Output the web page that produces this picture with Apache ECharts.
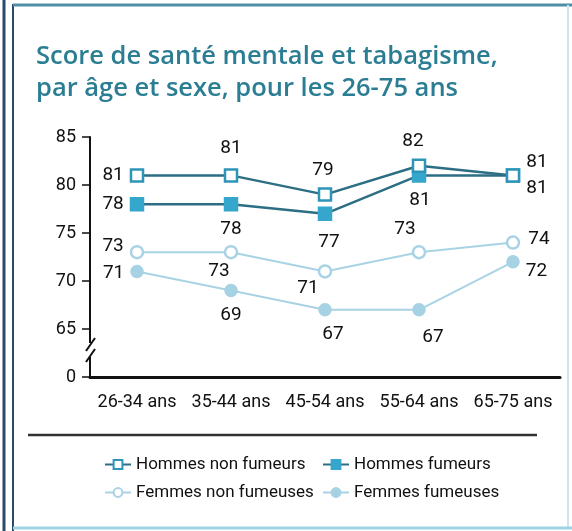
<!DOCTYPE html>
<html>
<head>
<meta charset="utf-8">
<script src="https://cdn.jsdelivr.net/npm/echarts@6/dist/echarts.min.js"></script>
<style>
  html, body { margin: 0; padding: 0; background: #fff; }
  #main { width: 572px; height: 531px; }
</style>
</head>
<body>
<div id="main"></div>
<script>
// categories and values
const ageGroups = ['26-34 ans', '35-44 ans', '45-54 ans', '55-64 ans', '65-75 ans'];
const hommesNonFumeurs = [81, 81, 79, 82, 81];
const hommesFumeurs = [78, 78, 77, 81, 81];
const femmesNonFumeuses = [73, 73, 71, 73, 74];
const femmesFumeuses = [71, 69, 67, 67, 72];
const yTicks = [60, 65, 70, 75, 80, 85]; // 60 stands in for the broken "0"

const narrow = 'Roboto, "Liberation Sans Narrow", sans-serif';
const darkLine = '#2c6e84';

// label placement per point (style only)
function withLabels(values, places) {
    return values.map((v, i) => ({
        value: v,
        label: { position: places[i][0], offset: places[i][1] || [0, 0] }
    }));
}

function makeSeries(name, values, places, opts) {
    return {
        name,
        type: 'line',
        data: withLabels(values, places),
        symbol: opts.symbol,
        symbolSize: opts.size,
        showAllSymbol: true,
        lineStyle: { color: opts.line, width: opts.width },
        itemStyle: { color: opts.fill, borderColor: opts.border, borderWidth: 2.5 },
        label: {
            show: true,
            color: '#111',
            fontFamily: narrow,
            fontSize: 19,
            distance: 6
        },
        z: opts.z
    };
}

const chart = echarts.init(document.getElementById('main'));

const option = {
    backgroundColor: '#fff',
    animation: false,
    title: {
        text: 'Score de santé mentale et tabagisme,\npar âge et sexe, pour les 26-75 ans',
        left: 31,
        top: 36,
        textStyle: {
            color: '#2a7d92',
            fontFamily: '"Open Sans", sans-serif',
            fontSize: 25.5,
            fontWeight: 600,
            lineHeight: 32
        }
    },
    grid: { left: 90, right: 12, top: 137, bottom: 154 },
    xAxis: {
        type: 'category',
        data: ageGroups,
        axisLine: { lineStyle: { color: '#111', width: 3 } },
        axisTick: { show: false },
        axisLabel: { color: '#111', fontFamily: narrow, fontSize: 18, margin: 16, interval: 0 }
    },
    yAxis: {
        type: 'value',
        min: yTicks[0],
        max: yTicks[yTicks.length - 1],
        interval: 5,
        splitLine: { show: false },
        axisLine: { show: true, lineStyle: { color: '#111', width: 2 } },
        axisTick: { show: true, length: 8, lineStyle: { color: '#111', width: 1.5 } },
        axisLabel: {
            color: '#111',
            fontFamily: narrow,
            fontSize: 18,
            margin: 14,
            formatter: v => (v === yTicks[0] ? '0' : String(v))
        }
    },
    legend: [
        {
            data: ['Hommes non fumeurs', 'Femmes non fumeuses'],
            orient: 'vertical',
            left: 99,
            top: 451,
            itemWidth: 26,
            itemHeight: 11,
            itemGap: 11,
            textStyle: { color: '#111', fontFamily: narrow, fontSize: 17 }
        },
        {
            data: ['Hommes fumeurs', 'Femmes fumeuses'],
            orient: 'vertical',
            left: 317,
            top: 451,
            itemWidth: 26,
            itemHeight: 11,
            itemGap: 11,
            textStyle: { color: '#111', fontFamily: narrow, fontSize: 17 }
        }
    ],
    series: [
        makeSeries('Hommes non fumeurs', hommesNonFumeurs,
            [['left'], ['top', [0, -4]], ['top', [-2, -2]], ['top', [-6, -2]], ['right', [0, -13]]],
            { symbol: 'rect', size: 12, line: darkLine, width: 2.5, fill: '#ffffff', border: '#2e95b8', z: 5 }),
        makeSeries('Hommes fumeurs', hommesFumeurs,
            [['left'], ['bottom', [0, 2]], ['bottom', [4, 6]], ['bottom', [1, 2]], ['right', [0, 13]]],
            { symbol: 'rect', size: 12, line: darkLine, width: 2.5, fill: '#36a7cc', border: '#36a7cc', z: 4 }),
        makeSeries('Femmes non fumeuses', femmesNonFumeuses,
            [['left', [0, -6]], ['bottom', [-12, -4]], ['bottom', [-17, -6]], ['top', [-14, 0]], ['right', [2, -3]]],
            { symbol: 'circle', size: 12, line: '#a9d3e4', width: 2, fill: '#ffffff', border: '#a9d3e4', z: 3 }),
        makeSeries('Femmes fumeuses', femmesFumeuses,
            [['left', [0, 2]], ['bottom', [0, 2]], ['bottom', [8, 2]], ['bottom', [14, 5]], ['right', [0, 9]]],
            { symbol: 'circle', size: 11, line: '#a9d3e4', width: 2, fill: '#a6d2e4', border: '#a6d2e4', z: 2 })
    ],
    graphic: [
        // page frame
        { type: 'line', shape: { x1: 4, y1: 0, x2: 4, y2: 531 }, style: { stroke: '#2b4a70', lineWidth: 3 } },
        { type: 'line', shape: { x1: 13, y1: 4, x2: 13, y2: 531 }, style: { stroke: '#2b4a70', lineWidth: 2 } },
        { type: 'line', shape: { x1: 13, y1: 5, x2: 572, y2: 5 }, style: { stroke: '#4f8fa4', lineWidth: 3 } },
        { type: 'line', shape: { x1: 568, y1: 5, x2: 568, y2: 528 }, style: { stroke: '#cfe6ee', lineWidth: 2 } },
        { type: 'line', shape: { x1: 13, y1: 528, x2: 572, y2: 528 }, style: { stroke: '#9fd3e4', lineWidth: 3 } },
        // separator above the legend
        { type: 'line', shape: { x1: 28, y1: 435, x2: 537, y2: 435 }, style: { stroke: '#333', lineWidth: 2.5 } },
        // axis break mark
        { type: 'rect', shape: { x: 86, y: 343, width: 10, height: 14 }, style: { fill: '#fff' }, z: 10 },
        { type: 'line', shape: { x1: 86, y1: 351, x2: 95, y2: 338 }, style: { stroke: '#111', lineWidth: 2 }, z: 11 },
        { type: 'line', shape: { x1: 86, y1: 362, x2: 95, y2: 349 }, style: { stroke: '#111', lineWidth: 2 }, z: 11 }
    ]
};

chart.setOption(option);
</script>
</body>
</html>
